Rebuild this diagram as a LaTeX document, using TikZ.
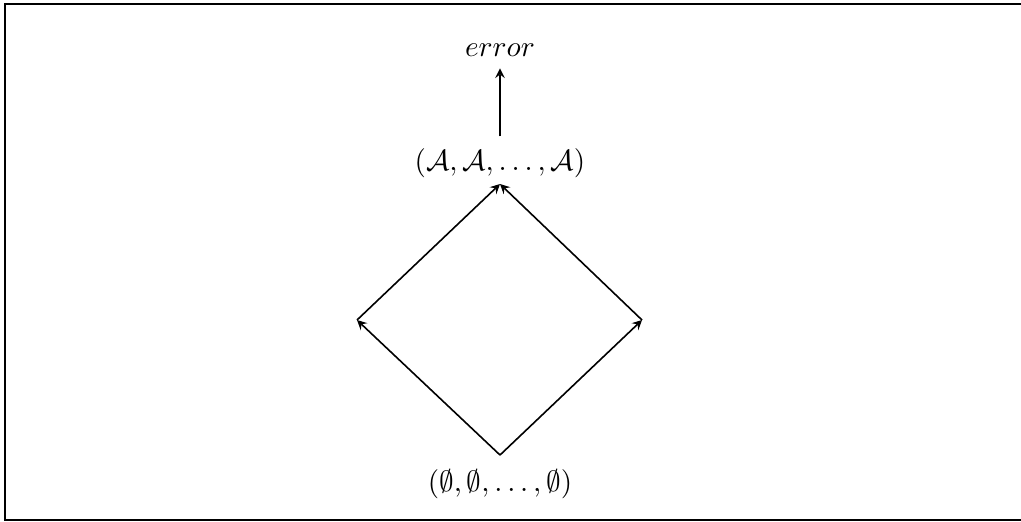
\documentclass[tikz,border=0pt]{standalone}
\usepackage{amsmath}
\usepackage{amssymb}
\usepackage{tikz}
\usetikzlibrary{arrows, positioning}

\begin{document}
\begin{tikzpicture}[x=0.375pt, y=-0.375pt, >=stealth,
    every node/.style={font=\fontsize{11.4}{13}\selectfont}]
    \useasboundingbox (0,0) rectangle (1021,521);

    % frame
    \draw[line width=0.8pt] (1021,4) -- (5,4) -- (5,520) -- (1021,520);

    % lattice nodes
    \node (err) at (500,50) {$error$};
    \node (top) at (500,163) {$(\mathcal{A}, \mathcal{A}, \ldots, \mathcal{A})$};
    \node (bot) at (500,484) {$(\emptyset, \emptyset, \ldots, \emptyset)$};

    \coordinate (lo) at (500,455);
    \coordinate (hi) at (500,184);
    \coordinate (lft) at (357,320);
    \coordinate (rgt) at (642,320);

    \draw[->, semithick] (lo) -- (lft);
    \draw[->, semithick] (lo) -- (rgt);
    \draw[->, semithick] (lft) -- (hi);
    \draw[->, semithick] (rgt) -- (hi);
    \draw[->, semithick, shorten <=1pt, shorten >=1pt] (top) -- (err);
\end{tikzpicture}
\end{document}
